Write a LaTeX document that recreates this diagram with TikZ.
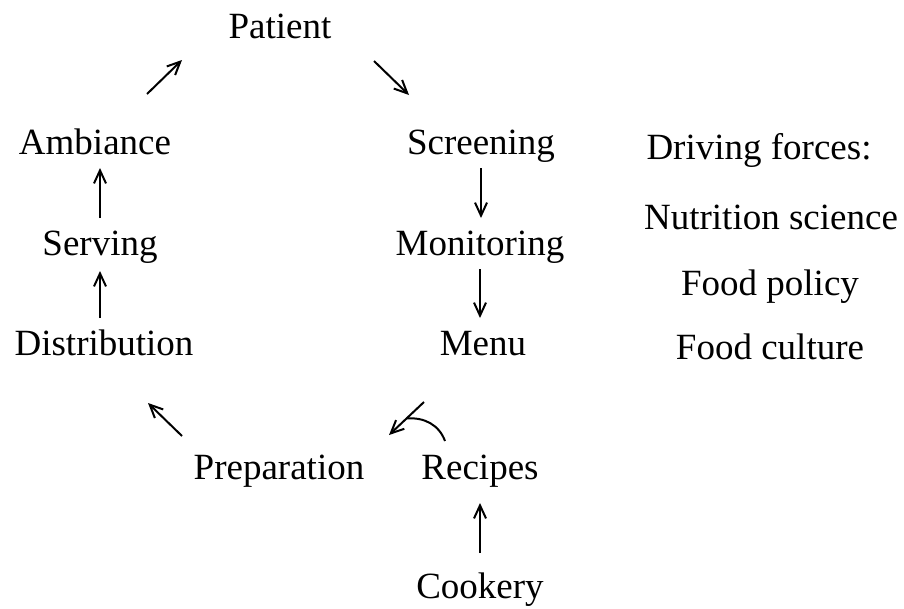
\documentclass[tikz,border=0pt]{standalone}
\usepackage{fontspec}
\setmainfont{Liberation Serif}
\usetikzlibrary{arrows.meta}

\begin{document}
\begin{tikzpicture}[x=1pt,y=1pt,
    word/.style={anchor=base,inner sep=0pt,text height=26pt,text depth=9pt,
      font=\fontsize{37}{44}\selectfont},
    >={Straight Barb[length=13pt,width=12pt]},
    every path/.style={line width=2pt}]
      \useasboundingbox (0,0) rectangle (904,-608);
      \node[word] (patient) at (280,-38) {Patient};
      \node[word] (ambiance) at (95,-154) {Ambiance};
      \node[word] (serving) at (100,-255) {Serving};
      \node[word] (distribution) at (104,-355) {Distribution};
      \node[word] (screening) at (481,-154) {Screening};
      \node[word] (monitoring) at (480,-255) {Monitoring};
      \node[word] (menu) at (483,-355) {Menu};
      \node[word] (preparation) at (279,-479) {Preparation};
      \node[word] (recipes) at (480,-479) {Recipes};
      \node[word] (cookery) at (480,-598) {Cookery};
      \node[word] (driving) at (759,-159) {Driving forces:};
      \node[word] (science) at (771,-229) {Nutrition science};
      \node[word] (policy) at (770,-295) {Food policy};
      \node[word] (culture) at (770,-359) {Food culture};
      \draw[->] ([shift={(52,33)}]ambiance.north) -- ([shift={(-98,-12)}]patient.south);
      \draw[->] ([shift={(94,-13)}]patient.south) -- ([shift={(-72,32)}]screening.north);
      \draw[->,shorten <=4pt,shorten >=10pt] (screening.south) -- (screening.south |- monitoring.north);
      \draw[->,shorten <=4pt,shorten >=10pt] (monitoring.south) -- (monitoring.south |- menu.north);
      \draw[->,shorten <=10pt,shorten >=4pt] (serving.north) -- (serving.north |- ambiance.south);
      \draw[->,shorten <=10pt,shorten >=6pt] (serving.south |- distribution.north) -- (serving.south);
      \draw[->] ([shift={(-97,16)}]preparation.north) -- ([shift={(44,-38)}]distribution.south);
      \draw[->] ([shift={(-59,-37)}]menu.south) -- coordinate[pos=0.5] (join) ([shift={(110,17)}]preparation.north);
      \draw ([shift={(-35,11)}]recipes.north) to[out=110,in=5] (join);
      \draw[->,shorten <=18pt,shorten >=14pt] (cookery.north) -- (recipes.south);
\end{tikzpicture}
\end{document}
